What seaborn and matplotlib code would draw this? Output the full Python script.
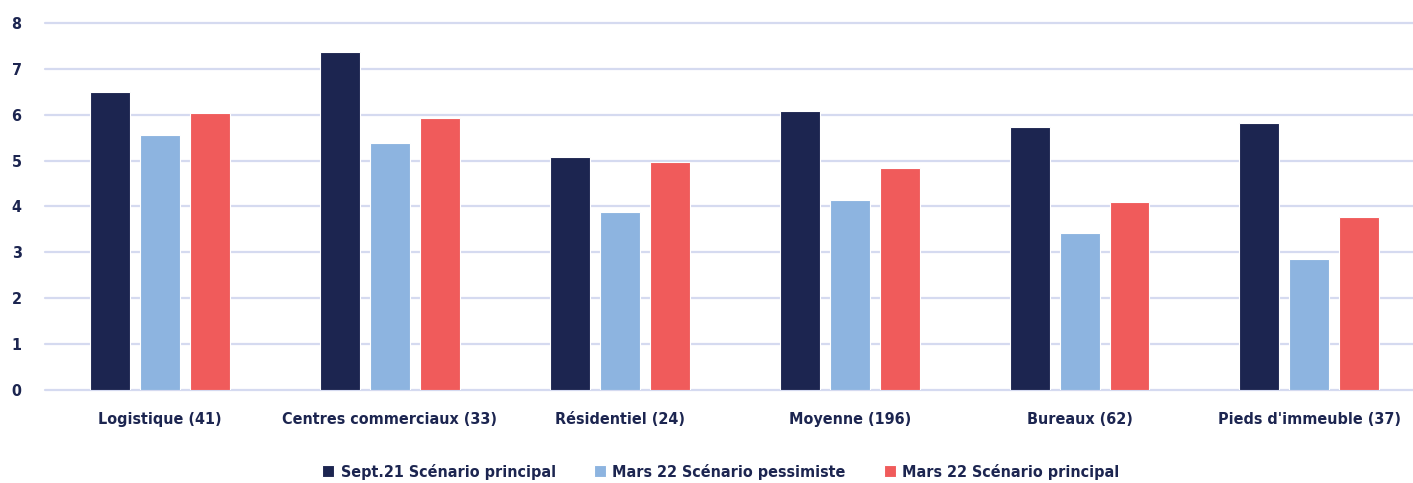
import pandas as pd
import seaborn as sns
import matplotlib.pyplot as plt

# Values
categories = ["Logistique (41)", "Centres commerciaux (33)", "Résidentiel (24)",
              "Moyenne (196)", "Bureaux (62)", "Pieds d'immeuble (37)"]
series = ["Sept.21 Scénario principal", "Mars 22 Scénario pessimiste",
          "Mars 22 Scénario principal"]
sept21_principal = [6.5, 7.37, 5.08, 6.09, 5.74, 5.82]
mars22_pessimiste = [5.57, 5.39, 3.87, 4.15, 3.42, 2.85]
mars22_principal = [6.03, 5.94, 4.97, 4.85, 4.10, 3.76]
yticks = [0, 1, 2, 3, 4, 5, 6, 7, 8]

colors = ["#1C2550", "#8DB4E0", "#F05B5B"]
text_color = "#1C2550"
grid_color = "#D5DAF0"

# Build a long table for seaborn
df = pd.DataFrame({
    "categorie": categories * 3,
    "serie": [series[0]] * 6 + [series[1]] * 6 + [series[2]] * 6,
    "valeur": sept21_principal + mars22_pessimiste + mars22_principal,
})

sns.set_theme(style="white")
plt.rcParams['font.family'] = ['DejaVu Sans']
plt.rcParams['font.stretch'] = 'condensed'

fig = plt.figure(figsize=(14.13, 4.83), dpi=100)
ax = fig.add_axes([0.032, 0.193, 0.976, 0.759])

sns.barplot(data=df, x="categorie", y="valeur", hue="serie", order=categories,
            hue_order=series, palette=colors, width=0.652, gap=0.2,
            edgecolor="white", linewidth=0.8, saturation=1, ax=ax, zorder=3)

ax.set_ylim(0, 8)
ax.set_yticks(yticks)
ax.set_xlim(-0.5, len(categories) - 0.5)
ax.yaxis.grid(True, color=grid_color, linewidth=1.6)
ax.set_axisbelow(True)
for gl in ax.get_ygridlines():
    gl.set_clip_on(False)
for s in ax.spines.values():
    s.set_visible(False)

ax.set_xlabel("")
ax.set_ylabel("")
ax.tick_params(axis="both", length=0, colors=text_color, labelsize=11.5)
ax.tick_params(axis="x", pad=16)
ax.tick_params(axis="y", pad=17)
for lbl in ax.get_xticklabels() + ax.get_yticklabels():
    lbl.set_fontweight("bold")
    lbl.set_fontstretch("condensed")

leg = ax.legend(loc="center", bbox_to_anchor=(0.49, -0.224), ncol=3,
                frameon=False, fontsize=11.5, handlelength=0.75, handleheight=0.75,
                handletextpad=0.4, columnspacing=2.4)
for t in leg.get_texts():
    t.set_color(text_color)
    t.set_fontweight("bold")
    t.set_fontstretch("condensed")

plt.savefig("out.png", dpi=100)
